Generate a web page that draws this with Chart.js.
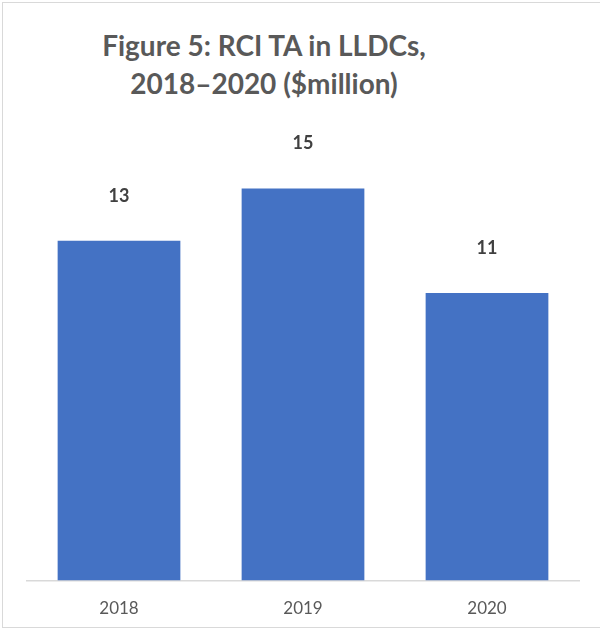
<!DOCTYPE html>
<html>
<head>
<meta charset="utf-8">
<script src="https://cdn.jsdelivr.net/npm/chart.js@4/dist/chart.umd.min.js"></script>
<style>
  body { margin: 0; background: #fff; }
  #wrap { position: relative; width: 600px; height: 629px; }
  #frame { position: absolute; left: 2px; top: 2px; right: -2px; bottom: 1px; border: 1px solid #d9d9d9; }
  #title { position: absolute; left: 0; width: 528px; top: 26px; text-align: center;
           font-family: Lato, "Open Sans", sans-serif; font-weight: bold; font-size: 28px;
           line-height: 38px; color: #595959; }
  canvas { position: absolute; left: 0; top: 0; }
</style>
</head>
<body>
<div id="wrap">
  <div id="frame"></div>
  <div id="title">Figure 5: RCI TA in LLDCs,<br>2018–2020 ($million)</div>
  <canvas id="barChart" width="600" height="629"></canvas>
</div>
<script>
const years = ['2018', '2019', '2020'];
const taValues = [13, 15, 11];

// value labels above each bar
const barLabels = {
  id: 'barLabels',
  afterDatasetsDraw(chart) {
    const ctx = chart.ctx;
    const meta = chart.getDatasetMeta(0);
    ctx.save();
    ctx.font = 'bold 18px Lato, "Open Sans", sans-serif';
    ctx.fillStyle = '#404040';
    ctx.textAlign = 'center';
    ctx.textBaseline = 'middle';
    meta.data.forEach((bar, i) => {
      ctx.fillText(String(taValues[i]), bar.x, bar.y - 45);
    });
    ctx.restore();
  }
};

window.onload = function () {
  const ctx = document.getElementById('barChart').getContext('2d');
  new Chart(ctx, {
    type: 'bar',
    data: {
      labels: years,
      datasets: [{
        data: taValues,
        backgroundColor: '#4472c4',
        categoryPercentage: 1,
        barPercentage: 0.667
      }]
    },
    options: {
      responsive: false,
      animation: false,
      layout: { padding: { top: 110, left: 27, right: 21, bottom: 0 } },
      plugins: { legend: { display: false }, tooltip: { enabled: false } },
      scales: {
        x: {
          grid: { display: false },
          border: { display: true, color: '#d9d9d9', width: 1.5 },
          ticks: { color: '#595959', padding: 10, font: { family: 'Lato, "Open Sans", sans-serif', size: 17 } }
        },
        y: { display: false, min: 0, max: 18 }
      }
    },
    plugins: [barLabels]
  });
};
</script>
</body>
</html>
